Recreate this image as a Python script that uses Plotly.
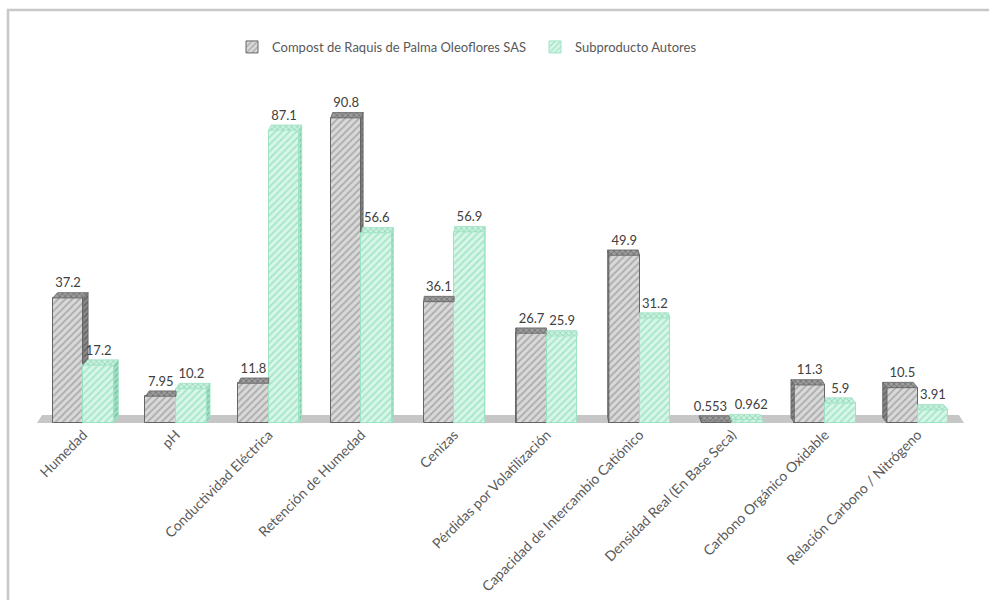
import plotly.graph_objects as go

# ---- data ----
categories = [
    "Humedad", "pH", "Conductividad Eléctrica", "Retención de Humedad", "Cenizas",
    "Pérdidas por Volatilización", "Capacidad de Intercambio Catiónico",
    "Densidad Real (En Base Seca)", "Carbono Orgánico Oxidable", "Relación Carbono / Nitrógeno",
]
compost = [37.2, 7.95, 11.8, 90.8, 36.1, 26.7, 49.9, 0.553, 11.3, 10.5]
subproducto = [17.2, 10.2, 87.1, 56.6, 56.9, 25.9, 31.2, 0.962, 5.9, 3.91]
series_names = ["Compost de Raquis de Palma Oleoflores SAS", "Subproducto Autores"]

# ---- geometry of the pseudo-3D columns (axis units) ----
BAR_W = 0.33
DEPTH_Y = 1.6       # vertical shift of the back faces
FLOOR_Y = 2.4       # depth of the floor slab
PERSP = 0.011       # horizontal shift per unit distance from the centre
CENTER = (len(categories) - 1) / 2


def depth_x(x):
    return PERSP * (CENTER - x)


GRAY = dict(front_bg="#d9d9d9", front_fg="#808080", line="#666666",
            side_bg="#8a8a8a", side_fg="#3f3f3f", top_bg="#9b9b9b", top_fg="#4a4a4a")
GREEN = dict(front_bg="#d8f6e8", front_fg="#72d6ab", line="#9fe3c5",
             side_bg="#a3dfc4", side_fg="#4aae85", top_bg="#c8f0dc", top_fg="#5fc79a")

x_idx = list(range(len(categories)))
x_gray = [i - BAR_W / 2 for i in x_idx]
x_green = [i + BAR_W / 2 for i in x_idx]


def add_poly(store, pts):
    for p in pts:
        store[0].append(p[0])
        store[1].append(p[1])
    store[0].append(pts[0][0]); store[1].append(pts[0][1])
    store[0].append(None); store[1].append(None)


gray_top, gray_side = ([], []), ([], [])
green_top, green_side = ([], []), ([], [])
dy = DEPTH_Y
for i in x_idx:
    g, s = compost[i], subproducto[i]
    # compost column
    xl, xr = x_gray[i] - BAR_W / 2, x_gray[i] + BAR_W / 2
    dx = depth_x(x_gray[i])
    if dx > 0 and s > g:
        add_poly(gray_top, [(xl, g), (xr, g), (xr, g + dy), (xl + dx, g + dy)])
    else:
        add_poly(gray_top, [(xl, g), (xr, g), (xr + dx, g + dy), (xl + dx, g + dy)])
    if dx > 0:
        if g > s:
            add_poly(gray_side, [(xr, s), (xr, g), (xr + dx, g + dy), (xr + dx, s + dy)])
    else:
        add_poly(gray_side, [(xl, 0), (xl, g), (xl + dx, g + dy), (xl + dx, dy)])
    # subproducto column
    xl, xr = x_green[i] - BAR_W / 2, x_green[i] + BAR_W / 2
    dx = depth_x(x_green[i])
    if dx < 0 and g > s:
        add_poly(green_top, [(xl, s), (xr, s), (xr + dx, s + dy), (xl, s + dy)])
    else:
        add_poly(green_top, [(xl, s), (xr, s), (xr + dx, s + dy), (xl + dx, s + dy)])
    if dx > 0:
        add_poly(green_side, [(xr, 0), (xr, s), (xr + dx, s + dy), (xr + dx, dy)])
    elif s > g:
        add_poly(green_side, [(xl, g), (xl, s), (xl + dx, s + dy), (xl + dx, g + dy)])

fig = go.Figure()

# front faces
fig.add_trace(go.Bar(
    x=x_gray, y=compost, width=BAR_W, name=series_names[0],
    marker=dict(color=GRAY["front_bg"], line=dict(color=GRAY["line"], width=1),
                pattern=dict(shape="/", bgcolor=GRAY["front_bg"], fgcolor=GRAY["front_fg"],
                             size=5, solidity=0.35)),
))
fig.add_trace(go.Bar(
    x=x_green, y=subproducto, width=BAR_W, name=series_names[1],
    marker=dict(color=GREEN["front_bg"], line=dict(color=GREEN["line"], width=1),
                pattern=dict(shape="/", bgcolor=GREEN["front_bg"], fgcolor=GREEN["front_fg"],
                             size=5, solidity=0.35)),
))


def face_trace(store, bg, fg, line, shape):
    return go.Scatter(
        x=store[0], y=store[1], mode="lines", fill="toself",
        line=dict(color=line, width=0.8),
        fillpattern=dict(shape=shape, bgcolor=bg, fgcolor=fg, size=4, solidity=0.4),
        showlegend=False, hoverinfo="skip",
    )


fig.add_trace(face_trace(gray_top, GRAY["top_bg"], GRAY["top_fg"], GRAY["line"], "x"))
fig.add_trace(face_trace(gray_side, GRAY["side_bg"], GRAY["side_fg"], GRAY["line"], "/"))
fig.add_trace(face_trace(green_top, GREEN["top_bg"], GREEN["top_fg"], GREEN["line"], "x"))
fig.add_trace(face_trace(green_side, GREEN["side_bg"], GREEN["side_fg"], GREEN["line"], "/"))

# value labels (labels of two very short columns are spread apart a little)
FONT = "Lato, 'Open Sans', sans-serif"
label_font = dict(family=FONT, size=13, color="#404040")
for xs, vals, nudge in ((x_gray, compost, -0.07), (x_green, subproducto, 0.04)):
    lx = [xs[i] + (nudge if max(compost[i], subproducto[i]) < 2 else 0) for i in x_idx]
    fig.add_trace(go.Scatter(
        x=lx, y=[v + DEPTH_Y + 0.6 for v in vals], mode="text",
        text=[f"{v:g}" for v in vals], textposition="top center",
        textfont=label_font, showlegend=False, hoverinfo="skip", cliponaxis=False,
    ))

# floor slab
x_lo, x_hi = -0.5, len(categories) - 0.5
floor_path = (f"M {x_lo},0 L {x_hi},0 L {x_hi + depth_x(x_hi)},{FLOOR_Y} "
              f"L {x_lo + depth_x(x_lo)},{FLOOR_Y} Z")
shapes = [
    dict(type="path", path=floor_path, xref="x", yref="y", layer="below",
         fillcolor="#c6c6c6", line=dict(width=0)),
]

# chart frame
L, R, T, B = 37, 25, 87, 177
W, H = 989, 600
pw, ph = W - L - R, H - T - B
shapes.append(dict(
    type="rect", xref="paper", yref="paper", layer="below",
    x0=(8 - L) / pw, x1=(W + 10 - L) / pw, y0=(H - B - (H + 10)) / ph, y1=(H - B - 10) / ph,
    line=dict(color="#c8c8c8", width=2.5), fillcolor="rgba(0,0,0,0)",
))

fig.update_layout(
    width=W, height=H,
    margin=dict(l=L, r=R, t=T, b=B, autoexpand=False),
    paper_bgcolor="white", plot_bgcolor="white",
    barmode="overlay", bargap=0,
    shapes=shapes,
    showlegend=True,
    legend=dict(orientation="h", x=(232 - L) / pw, xanchor="left", y=(H - B - 47) / ph,
                yanchor="middle", entrywidth=258, entrywidthmode="pixels",
                font=dict(family=FONT, size=13, color="#595959"),
                traceorder="normal", itemwidth=30),
    xaxis=dict(range=[x_lo, x_hi], tickvals=x_idx, ticktext=categories, tickangle=-45,
               showgrid=False, zeroline=False, showline=False, ticks="", automargin=False,
               tickfont=dict(family=FONT, size=14, color="#595959")),
    yaxis=dict(range=[0, 100], visible=False, showgrid=False, zeroline=False, automargin=False),
)

fig.write_html("out.html")
